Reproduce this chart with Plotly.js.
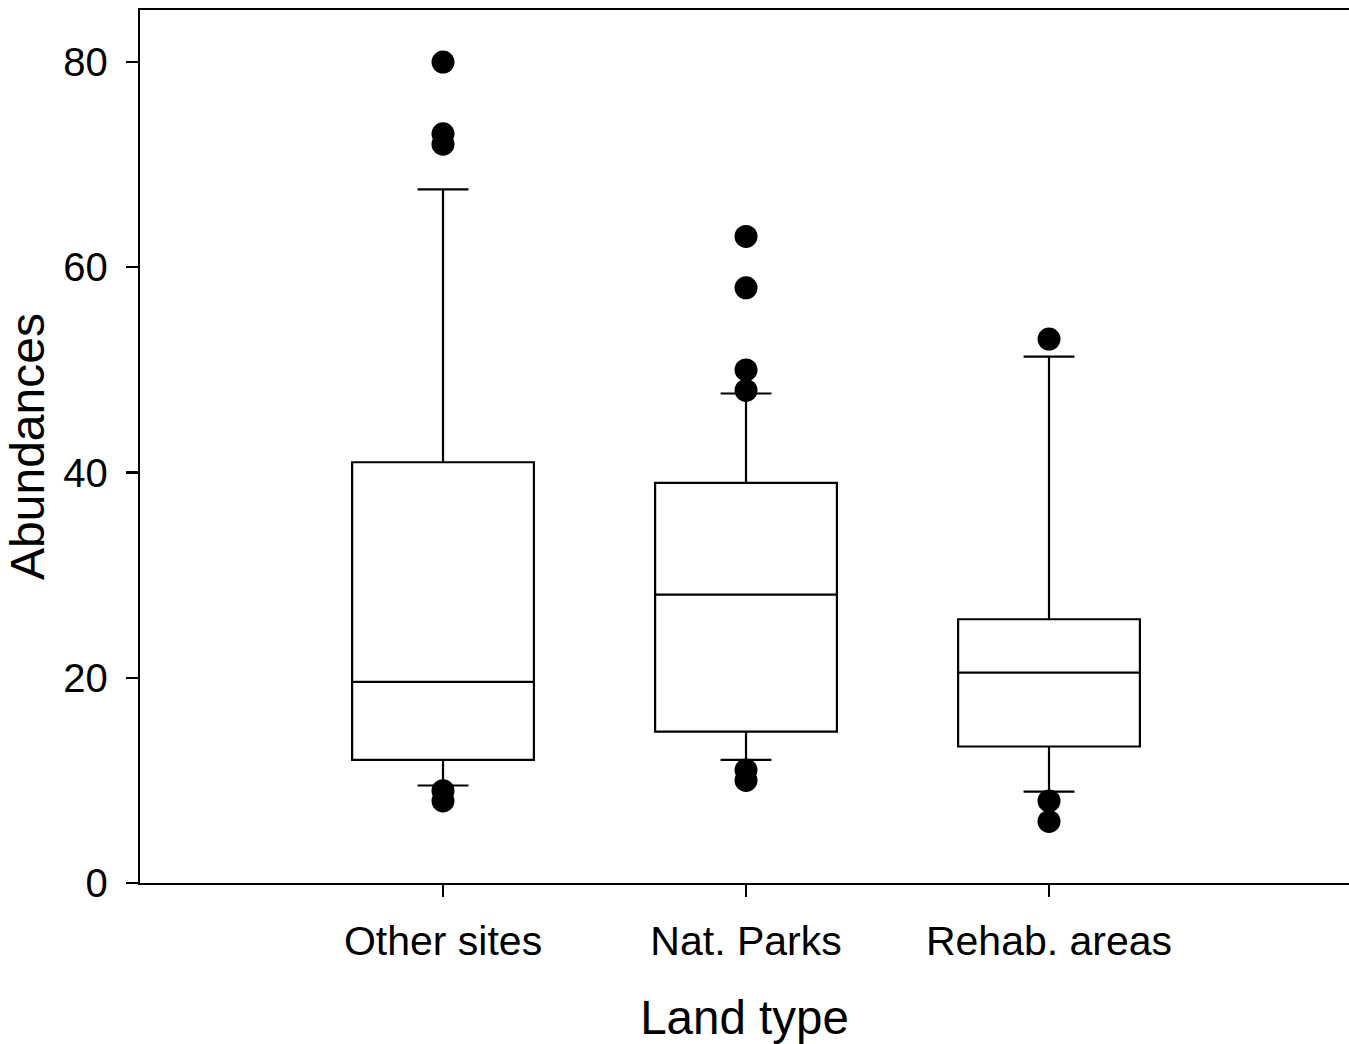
<!DOCTYPE html>
<html>
<head>
<meta charset="utf-8">
<script src="https://cdn.plot.ly/plotly-3.0.1.min.js"></script>
<style>html,body{margin:0;padding:0;background:#fff;}#chart{width:1349px;height:1044px;}</style>
</head>
<body>
<div id="chart"></div>
<script>
const categories = ["Other sites", "Nat. Parks", "Rehab. areas"];
const lowerWhisker = [9.5, 12.0, 8.9];
const q1 = [12.0, 14.75, 13.3];
const median = [19.6, 28.1, 20.5];
const q3 = [41.0, 39.0, 25.7];
const upperWhisker = [67.6, 47.7, 51.3];
const outliers = [
  [80, 73, 72, 9, 8],
  [63, 58, 50, 48, 11, 10],
  [53, 8, 6]
];
const yTicks = [0, 20, 40, 60, 80];

const outX = [], outY = [];
outliers.forEach((vals, i) => vals.forEach(v => { outX.push(categories[i]); outY.push(v); }));

const font = "Liberation Sans, Arial, sans-serif";

const traces = [
  {
    type: "box",
    x: categories,
    q1: q1,
    median: median,
    q3: q3,
    lowerfence: lowerWhisker,
    upperfence: upperWhisker,
    boxpoints: false,
    width: 0.6,
    whiskerwidth: 0.28,
    fillcolor: "rgba(255,255,255,0)",
    line: {color: "#000", width: 2.2},
    hoverinfo: "skip"
  },
  {
    type: "scatter",
    mode: "markers",
    x: outX,
    y: outY,
    marker: {color: "#000", size: 23},
    hoverinfo: "skip"
  }
];

const layout = {
  width: 1349,
  height: 1044,
  margin: {l: 140, r: 0, t: 10, b: 161},
  paper_bgcolor: "#fff",
  plot_bgcolor: "#fff",
  showlegend: false,
  font: {family: font, color: "#000", size: 40},
  xaxis: {
    type: "category",
    categoryorder: "array",
    categoryarray: categories,
    range: [-1, 2.99],
    showgrid: false,
    zeroline: false,
    showline: true,
    mirror: true,
    linecolor: "#000",
    linewidth: 2.2,
    ticks: "outside",
    ticklen: 12,
    tickwidth: 2.2,
    tickcolor: "#000",
    ticklabelstandoff: 9,
    tickfont: {family: font, size: 41, color: "#000"},
    title: {text: "Land type", font: {family: font, size: 47.5, color: "#000"}, standoff: 38}
  },
  yaxis: {
    range: [0, 85.07],
    tickvals: yTicks,
    ticktext: yTicks.map(String),
    showgrid: false,
    zeroline: false,
    showline: true,
    mirror: false,
    linecolor: "#000",
    linewidth: 2.2,
    ticks: "outside",
    ticklen: 12,
    tickwidth: 2.2,
    tickcolor: "#000",
    ticklabelstandoff: 10,
    tickfont: {family: font, size: 40, color: "#000"},
    title: {text: "Abundances", font: {family: font, size: 48, color: "#000"}, standoff: 4}
  }
};

Plotly.newPlot("chart", traces, layout, {staticPlot: true, displayModeBar: false});
</script>
</body>
</html>
